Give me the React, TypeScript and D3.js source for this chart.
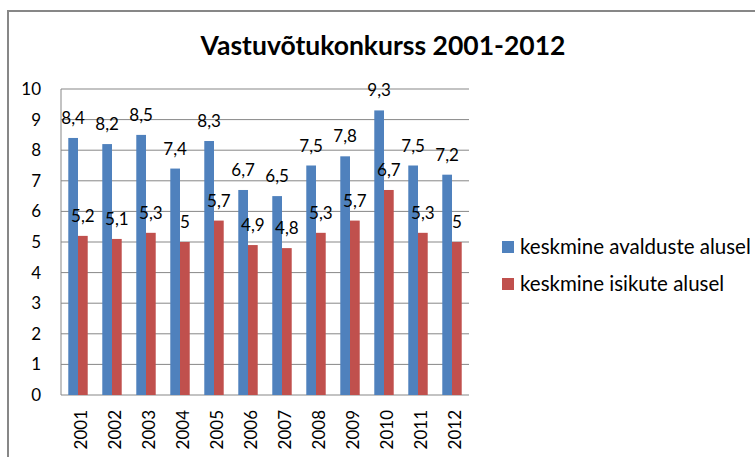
import React from 'react'
import * as d3 from 'd3'

const years = ['2001', '2002', '2003', '2004', '2005', '2006', '2007', '2008', '2009', '2010', '2011', '2012']
const avaldused = [8.4, 8.2, 8.5, 7.4, 8.3, 6.7, 6.5, 7.5, 7.8, 9.3, 7.5, 7.2]
const isikud = [5.2, 5.1, 5.3, 5, 5.7, 4.9, 4.8, 5.3, 5.7, 6.7, 5.3, 5]
const seriesNames = ['keskmine avalduste alusel', 'keskmine isikute alusel']
const colors = ['#4f81bd', '#c0504d']
const yTicks = [0, 1, 2, 3, 4, 5, 6, 7, 8, 9, 10]

const W = 755
const H = 457
const font = 'Lato, "Open Sans", sans-serif'

export default function App() {
  const left = 61, right = 469, top = 89, bottom = 395
  const y = d3.scaleLinear().domain([0, 10]).range([bottom, top])
  const x = d3.scaleBand().domain(years).range([left, right]).paddingInner(0).paddingOuter(0)
  const bw = x.bandwidth() / 3.5
  const fmt = (v: number) => String(v).replace('.', ',')
  const series = [avaldused, isikud]

  return (
    <svg width={W} height={H} style={{ position: 'absolute', left: 0, top: 0, background: '#fff' }} fontFamily={font}>
      <rect x={8} y={11} width={W + 10} height={H + 10} fill="#fff" stroke="#878787" strokeWidth={2} />
      <text x={383} y={55} textAnchor="middle" fontSize={26.5} fontWeight="bold" fill="#000">
        Vastuvõtukonkurss 2001-2012
      </text>
      {yTicks.map(t => (
        <g key={t}>
          <line x1={left} x2={right} y1={y(t)} y2={y(t)} stroke="#878787" strokeWidth={1} />
          <text x={left - 20} y={y(t) + 6} textAnchor="end" fontSize={17} fill="#000">{t}</text>
        </g>
      ))}
      <line x1={left} x2={left} y1={top} y2={bottom} stroke="#878787" strokeWidth={1} />
      {series.map((vals, si) => (
        <g key={si}>
          {vals.map((v, i) => {
            const bx = (x(years[i]) as number) + x.bandwidth() / 2 - bw + si * bw
            return (
              <g key={i}>
                <rect x={bx} y={y(v)} width={bw} height={bottom - y(v)} fill={colors[si]} />
                <text x={bx + bw / 2} y={y(v) - 14} textAnchor="middle" fontSize={17} fill="#000">{fmt(v)}</text>
              </g>
            )
          })}
        </g>
      ))}
      {years.map(yr => {
        const cx = (x(yr) as number) + x.bandwidth() / 2
        return (
          <text key={yr} transform={`translate(${cx + 9},410) rotate(-90)`} textAnchor="end" fontSize={17} fill="#000">{yr}</text>
        )
      })}
      {seriesNames.map((n, i) => (
        <g key={n} transform={`translate(502,${241 + i * 37})`}>
          <rect x={0} y={0} width={12} height={12} fill={colors[i]} />
          <text x={18} y={13} fontSize={20.5} fill="#000">{n}</text>
        </g>
      ))}
    </svg>
  )
}
